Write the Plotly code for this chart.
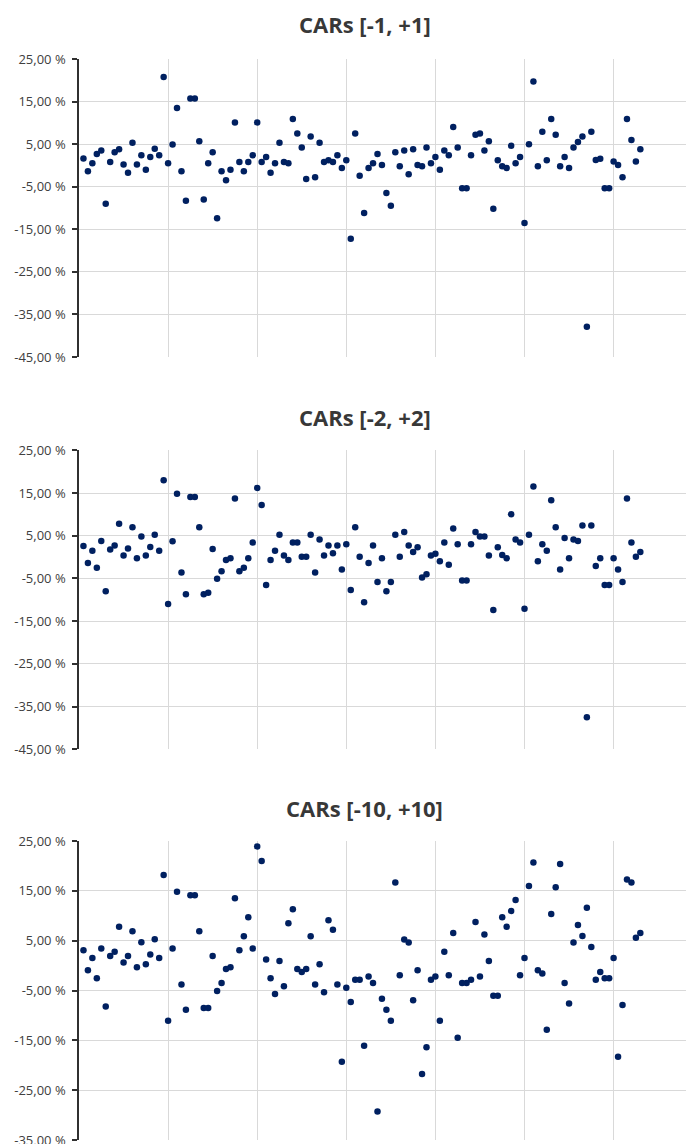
import plotly.graph_objects as go

titles = ["CARs [-1, +1]", "CARs [-2, +2]", "CARs [-10, +10]"]

car_1 = [1.6, -1.35, 0.5, 2.7, 3.5, -9.0, 0.8, 3.1, 3.8, 0.2,
         -1.7, 5.3, 0.2, 2.4, -1.0, 2.0, 3.9, 2.4, 20.8, 0.5,
         4.9, 13.5, -1.35, -8.3, 15.7, 15.7, 5.7, -8.0, 0.5, 3.1,
         -12.4, -1.35, -3.5, -1.0, 10.1, 0.8, -1.35, 0.8, 2.4, 10.1,
         0.8, 2.0, -1.7, 0.5, 5.3, 0.8, 0.5, 10.9, 7.5, 4.2,
         -3.2, 6.8, -2.8, 5.3, 0.8, 1.2, 0.8, 2.4, -0.6, 1.2,
         -17.2, 7.5, -2.45, -11.2, -0.6, 0.5, 2.7, 0.1, -6.5, -9.5,
         3.1, -0.2, 3.5, -2.1, 3.8, 0.1, -0.2, 4.2, 0.5, 2.0,
         -1.0, 3.5, 2.4, 9.0, 4.2, -5.35, -5.35, 2.4, 7.2, 7.5,
         3.5, 5.7, -10.2, 1.2, -0.2, -0.6, 4.6, 0.5, 2.0, -13.5,
         5.0, 19.7, -0.2, 7.9, 1.2, 10.9, 7.2, -0.2, 2.0, -0.6,
         4.2, 5.5, 6.8, -37.9, 7.9, 1.3, 1.55, -5.35, -5.35, 0.9,
         0.1, -2.8, 10.9, 6.0, 0.9, 3.8]

car_2 = [2.6, -1.4, 1.5, -2.5, 3.75, -8.0, 1.8, 2.7, 7.8, 0.4,
         2.0, 7.0, -0.3, 4.8, 0.4, 2.35, 5.2, 1.5, 18.0, -11.0,
         3.7, 14.8, -3.6, -8.7, 14.05, 14.05, 7.0, -8.7, -8.35, 1.9,
         -5.1, -3.3, -0.7, -0.3, 13.7, -3.3, -2.5, -0.3, 3.4, 16.2,
         12.2, -6.55, -0.7, 1.5, 5.2, 0.4, -0.7, 3.4, 3.4, 0.1,
         0.1, 5.2, -3.6, 4.1, 0.4, 2.7, 0.9, 2.7, -2.9, 3.0,
         -7.7, 7.0, 0.1, -10.6, -1.4, 2.7, -5.85, -0.3, -8.0, -5.85,
         5.2, 0.1, 5.9, 2.7, 1.2, 2.3, -4.8, -4.0, 0.4, 0.8,
         -1.0, 3.4, -1.8, 6.7, 3.0, -5.5, -5.5, 3.0, 5.9, 4.8,
         4.8, 0.4, -12.4, 2.3, 0.5, -0.3, 10.0, 4.1, 3.4, -12.1,
         5.2, 16.55, -1.0, 3.0, 1.5, 13.3, 7.0, -2.9, 4.45, -0.3,
         4.1, 3.75, 7.4, -37.5, 7.4, -2.1, -0.3, -6.55, -6.55, -0.3,
         -2.9, -5.85, 13.7, 3.4, 0.1, 1.2]

car_10 = [3.1, -0.95, 1.5, -2.55, 3.45, -8.2, 1.9, 2.8, 7.8, 0.6,
          1.9, 6.9, -0.35, 4.7, 0.25, 2.2, 5.3, 1.5, 18.2, -11.05,
          3.45, 14.8, -3.8, -8.85, 14.1, 14.1, 6.9, -8.5, -8.5, 1.9,
          -5.1, -3.5, -0.7, -0.35, 13.5, 3.1, 5.9, 9.7, 3.45, 23.9,
          21.0, 1.2, -2.55, -5.7, 0.9, -4.15, 8.5, 11.3, -0.7, -1.3,
          -0.7, 5.9, -3.8, 0.25, -5.35, 9.1, 7.2, -3.8, -19.3, -4.45,
          -7.3, -2.85, -2.85, -16.1, -2.2, -3.5, -29.3, -6.65, -8.85, -11.05,
          16.65, -1.95, 5.25, 4.65, -6.95, -0.95, -21.75, -16.4, -2.85, -2.2,
          -11.05, 2.8, -1.95, 6.55, -14.5, -3.5, -3.5, -2.85, 8.75, -2.2,
          6.25, 0.9, -6.05, -6.05, 9.7, 7.8, 10.95, 13.15, -1.95, 1.5,
          15.95, 20.7, -0.95, -1.6, -12.9, 10.35, 15.7, 20.4, -3.5, -7.6,
          4.65, 8.15, 5.95, 11.6, 3.75, -2.85, -1.3, -2.55, -2.55, 1.5,
          -18.3, -7.9, 17.25, 16.65, 5.6, 6.55]

series = [car_1, car_2, car_10]
tick_vals_a = [25, 15, 5, -5, -15, -25, -35, -45]
tick_vals_b = [25, 15, 5, -5, -15, -25, -35]
tick_sets = [tick_vals_a, tick_vals_a, tick_vals_b]
y_ranges = [[-45, 25], [-45, 25], [-35, 25]]


def fmt(v):
    return ("%.2f" % v).replace(".", ",") + " %"


# the page body adds an 8 px offset; all reference pixel positions are
# shifted by that amount
OFF = 8
W = 694 - OFF
H = 1144 - OFF
left = 79 - OFF
pix = [(59 - OFF, 357 - OFF), (450.3 - OFF, 749.3 - OFF), (841 - OFF, 1140 - OFF)]
title_y = [24 - OFF, 416.5 - OFF, 807.5 - OFF]
title_x = 364.5 - OFF
px_per_unit = 89.1 / 20.0
x_max = (W - left) / px_per_unit

marker_color = "#002060"
grid_color = "#D9D9D9"
text_color = "#404040"
tick_font = "'Open Sans', sans-serif"
title_font = "'Open Sans', sans-serif"

fig = go.Figure()
annotations = []
for i, vals in enumerate(series):
    n = i + 1
    xs = list(range(1, len(vals) + 1))
    xa = "x" if n == 1 else "x%d" % n
    ya = "y" if n == 1 else "y%d" % n
    fig.add_trace(go.Scatter(
        x=xs, y=vals, mode="markers", xaxis=xa, yaxis=ya,
        marker=dict(color=marker_color, size=6.5, line=dict(width=0)),
        showlegend=False, hoverinfo="skip", cliponaxis=False))
    top, bot = pix[i]
    dom = [1 - bot / H, 1 - top / H]
    xkey = "xaxis" if n == 1 else "xaxis%d" % n
    ykey = "yaxis" if n == 1 else "yaxis%d" % n
    fig.update_layout(**{
        xkey: dict(domain=[0, 1], range=[0, x_max], anchor=ya,
                   showgrid=True, gridcolor=grid_color, gridwidth=1,
                   dtick=20, tick0=0, showticklabels=False, ticks="",
                   zeroline=False, showline=False, fixedrange=True,
                   automargin=False),
        ykey: dict(domain=dom, range=y_ranges[i], anchor=xa,
                   tickvals=tick_sets[i],
                   ticktext=[fmt(v) for v in tick_sets[i]],
                   showgrid=True, gridcolor=grid_color, gridwidth=1,
                   zeroline=False, showline=True, linecolor="#303030",
                   linewidth=1.5, ticks="outside", ticklen=5,
                   tickcolor="#303030", tickwidth=1.5,
                   ticklabelstandoff=4, ticklabeloverflow="allow",
                   tickfont=dict(family=tick_font, size=13, color=text_color),
                   automargin=False, fixedrange=True),
    })
    annotations.append(dict(
        text="<b>%s</b>" % titles[i], xref="paper", yref="paper",
        x=(title_x - left) / (W - left), y=1 - title_y[i] / H,
        xanchor="center", yanchor="middle", showarrow=False,
        font=dict(family=title_font, size=22, color="#383838")))

fig.update_layout(
    width=W, height=H,
    margin=dict(l=left, r=0, t=0, b=0, autoexpand=False),
    paper_bgcolor="white", plot_bgcolor="white",
    annotations=annotations,
)

fig.write_html("out.html")
